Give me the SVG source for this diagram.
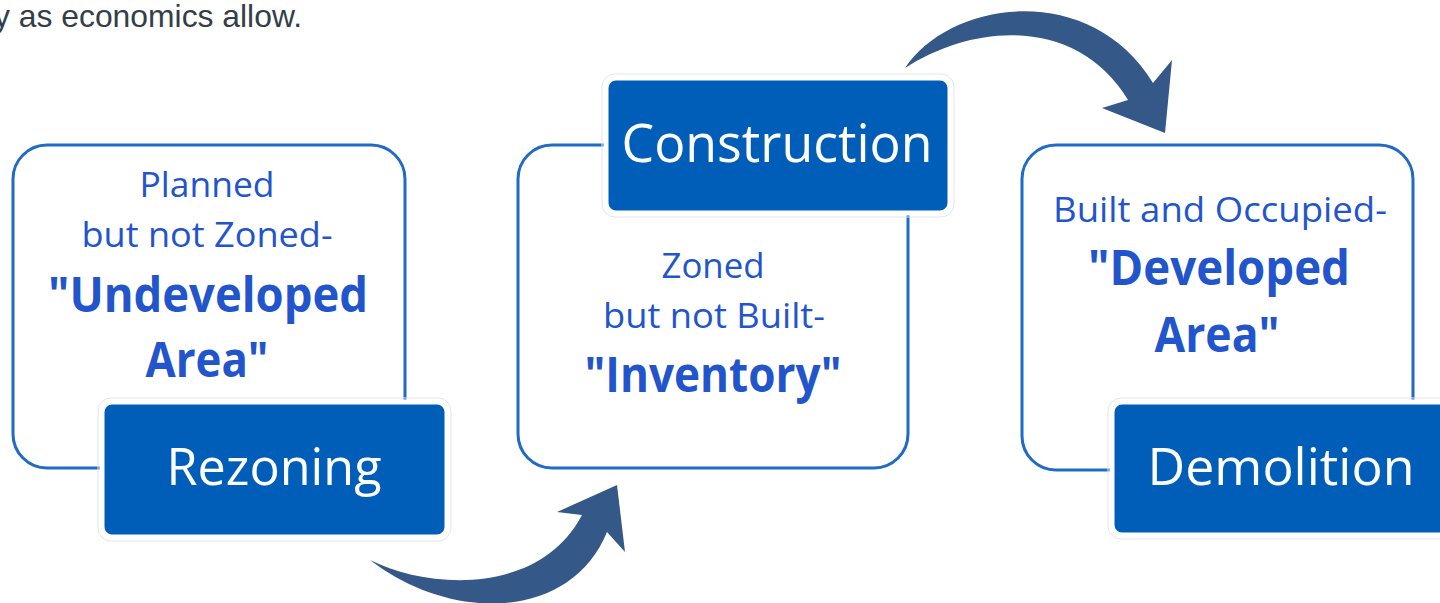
<svg xmlns="http://www.w3.org/2000/svg" width="1440" height="603" viewBox="0 0 1440 603">
<style>
.outline{fill:#fff;stroke:#1f6bc6;stroke-width:3}
.fill{fill:#005eb8;stroke:#fff;stroke-width:5}
.halo{fill:none;stroke:#e3e6ea;stroke-width:1}
.t{font-family:"Open Sans","Noto Sans",sans-serif;fill:#2255cc;text-anchor:middle}
.b{font-weight:bold}
.w{font-family:"Open Sans","Noto Sans",sans-serif;fill:#fff;text-anchor:middle}
.arrow{fill:#345887}
.hdr{font-family:"Liberation Sans",Arial,sans-serif;fill:#333e48;font-size:32px}
</style>
<rect width="1440" height="603" fill="#fff"/>
<text class="hdr" x="-6" y="27" textLength="308" lengthAdjust="spacingAndGlyphs">y as economics allow.</text>

<g id="node-undeveloped">
<rect class="outline" x="13" y="145" width="392" height="323" rx="34"/>
<text class="t" x="207" y="197" font-size="35" textLength="135" lengthAdjust="spacingAndGlyphs">Planned</text>
<text class="t" x="207" y="247" font-size="35" textLength="251" lengthAdjust="spacingAndGlyphs">but not Zoned-</text>
<text class="t b" x="208" y="312" font-size="49" textLength="320" lengthAdjust="spacingAndGlyphs">"Undeveloped</text>
<text class="t b" x="207" y="377" font-size="49" textLength="123" lengthAdjust="spacingAndGlyphs">Area"</text>
</g>

<g id="node-rezoning">
<rect class="halo" x="98" y="398" width="353" height="143" rx="13"/>
<rect class="fill" x="102" y="402" width="345" height="135" rx="10"/>
<text class="w" x="274" y="485" font-size="52" textLength="215" lengthAdjust="spacingAndGlyphs">Rezoning</text>
</g>

<g id="node-inventory">
<rect class="outline" x="518" y="145" width="390" height="323" rx="34"/>
<text class="t" x="713" y="278" font-size="35" textLength="103" lengthAdjust="spacingAndGlyphs">Zoned</text>
<text class="t" x="714" y="328" font-size="35" textLength="222" lengthAdjust="spacingAndGlyphs">but not Built-</text>
<text class="t b" x="713" y="392" font-size="49" textLength="257" lengthAdjust="spacingAndGlyphs">"Inventory"</text>
</g>

<g id="node-construction">
<rect class="halo" x="602" y="74" width="352" height="143" rx="13"/>
<rect class="fill" x="606" y="78" width="344" height="135" rx="10"/>
<text class="w" x="777" y="162" font-size="53" textLength="311" lengthAdjust="spacingAndGlyphs">Construction</text>
</g>

<g id="node-developed">
<rect class="outline" x="1022" y="145" width="391" height="325" rx="34"/>
<text class="t" x="1220" y="222" font-size="35" textLength="334" lengthAdjust="spacingAndGlyphs">Built and Occupied-</text>
<text class="t b" x="1219" y="285" font-size="49" textLength="262" lengthAdjust="spacingAndGlyphs">"Developed</text>
<text class="t b" x="1217" y="352" font-size="49" textLength="125" lengthAdjust="spacingAndGlyphs">Area"</text>
</g>

<g id="node-demolition">
<rect class="halo" x="1108" y="398" width="360" height="141" rx="13"/>
<rect class="fill" x="1112" y="402" width="350" height="133" rx="10"/>
<text class="w" x="1281" y="485" font-size="52" textLength="267" lengthAdjust="spacingAndGlyphs">Demolition</text>
</g>

<g id="connectors">
<path class="arrow" d="M370,560 C430,590 540,595 582,515 L557,512 L617,485 L625,552 L607,532 C570,622 450,622 370,560 Z"/>
<path class="arrow" d="M905,68 C950,0 1090,-20 1153,83 L1172,60 L1165,133 L1102,108 L1128,100 C1080,20 980,20 905,68 Z"/>
</g>
</svg>
